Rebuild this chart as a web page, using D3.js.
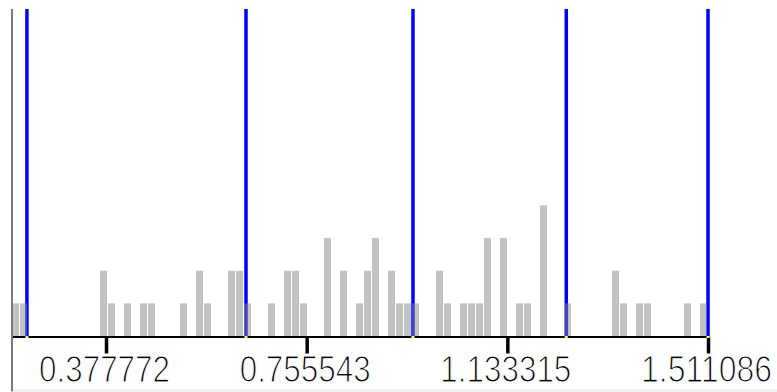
<!DOCTYPE html>
<html>
<head>
<meta charset="utf-8">
<script src="https://cdn.jsdelivr.net/npm/d3@7"></script>
<style>
  html, body { margin: 0; padding: 0; background: #ffffff; }
  svg { display: block; }
</style>
</head>
<body>
<svg id="chart" width="777" height="392"></svg>
<script>
// ---- data ----
const xMin = 0.2008;
const xMax = 1.511086;
// histogram counts, 87 equal bins between xMin and xMax
const binCounts = [
  1, 1, 0, 0, 0, 0, 0, 0, 0, 0,
  0, 2, 1, 0, 1, 0, 1, 1, 0, 0,
  0, 1, 0, 2, 1, 0, 0, 2, 2, 1,
  0, 0, 1, 0, 2, 2, 1, 0, 0, 3,
  0, 2, 0, 1, 2, 3, 0, 2, 1, 1,
  1, 0, 0, 2, 1, 0, 1, 1, 1, 3,
  0, 3, 0, 1, 1, 0, 4, 0, 0, 1,
  0, 0, 0, 0, 0, 2, 1, 0, 1, 1,
  0, 0, 0, 0, 1, 0, 1
];
// vertical marker lines (blue)
const markerValues = [0.2289, 0.6413, 0.9557, 1.2443, 1.5111];
// x-axis ticks
const tickValues = [0.377772, 0.755543, 1.133315, 1.511086];
const tickLabels = ["0.377772", "0.755543", "1.133315", "1.511086"];
const yMax = 10;

// ---- layout ----
const svg = d3.select("#chart");
const plotLeft = 12, plotRight = 708, plotTop = 9.6, plotBottom = 336;

const x = d3.scaleLinear().domain([xMin, xMax]).range([plotLeft, plotRight]);
const y = d3.scaleLinear().domain([0, yMax]).range([plotBottom, plotTop]);

const nBins = binCounts.length;
const binW = (xMax - xMin) / nBins;
const bins = binCounts.map((c, i) => ({ x0: xMin + i * binW, x1: xMin + (i + 1) * binW, count: c }))
  .filter(d => d.count > 0);

// bottom light strip
svg.append("rect")
  .attr("x", plotLeft + 1).attr("y", 389)
  .attr("width", 777 - plotLeft - 1).attr("height", 3)
  .attr("fill", "#f0f0f0");

// blue marker lines
svg.append("g").selectAll("line").data(markerValues).join("line")
  .attr("x1", d => x(d)).attr("x2", d => x(d))
  .attr("y1", y(yMax) - 0.6).attr("y2", y(0))
  .attr("stroke", "#0000ff").attr("stroke-width", 3.5);

// histogram bars (semi-transparent gray)
svg.append("g").selectAll("rect").data(bins).join("rect")
  .attr("x", d => x(d.x0))
  .attr("width", d => x(d.x1) - x(d.x0) - 1)
  .attr("y", d => y(d.count))
  .attr("height", d => y(0) - y(d.count))
  .attr("fill", "#868686")
  .attr("fill-opacity", 0.5);

// x axis
const axis = d3.axisBottom(x)
  .tickValues(tickValues)
  .tickFormat((d, i) => tickLabels[i])
  .tickSize(17)
  .tickSizeOuter(0)
  .tickPadding(3);

const gx = svg.append("g")
  .attr("transform", `translate(0,${plotBottom + 0.5})`)
  .call(axis);
gx.select(".domain").attr("stroke", "#000").attr("stroke-width", 2);
gx.selectAll(".tick line").attr("stroke", "#000").attr("stroke-width", 3.5);
gx.selectAll(".tick text")
  .attr("fill", "#000")
  .attr("x", -2)
  .attr("textLength", 131)
  .attr("lengthAdjust", "spacingAndGlyphs")
  .style("font-family", "'Liberation Sans', Arial, sans-serif")
  .style("font-size", "36px")
  .attr("stroke", "#fff")
  .attr("stroke-width", 1.2);

// yellow feet of marker lines
svg.append("g").selectAll("rect").data(markerValues).join("rect")
  .attr("x", d => x(d) - 1.5).attr("y", plotBottom)
  .attr("width", 3).attr("height", 2)
  .attr("fill", "#ffff40");

// left border
svg.append("rect")
  .attr("x", plotLeft - 1).attr("y", plotTop - 0.6)
  .attr("width", 2).attr("height", 392 - plotTop)
  .attr("fill", "#7a7a7a");
</script>
</body>
</html>
